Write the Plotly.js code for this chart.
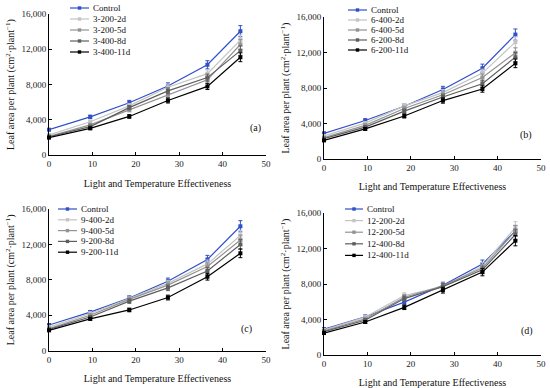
<!DOCTYPE html>
<html>
<head>
<meta charset="utf-8">
<script src="https://cdn.plot.ly/plotly-3.0.1.min.js"></script>
<style>html,body{margin:0;padding:0;background:#fff;}#chart{width:550px;height:388px;}</style>
</head>
<body>
<div id="chart"></div>
<script>
// ---- data ----
const lte = [0, 9.5, 18.5, 27.4, 36.5, 44.1];

const namesA = ['Control', '3-200-2d', '3-200-5d', '3-400-8d', '3-400-11d'];
const controlA = [2900, 4350, 5950, 7850, 10250, 14050];
const a2d = [2300, 3800, 5600, 7700, 9250, 13050];
const a5d = [2150, 3450, 5150, 6850, 8550, 12550];
const a8d = [2100, 3250, 5400, 7300, 8800, 11850];
const a11d = [2000, 3050, 4400, 6200, 7800, 11100];

const namesB = ['Control', '6-400-2d', '6-400-5d', '6-200-8d', '6-200-11d'];
const controlB = [2900, 4350, 5950, 7850, 10250, 14050];
const b2d = [2600, 4050, 6000, 7500, 9700, 13200];
const b5d = [2400, 3800, 5700, 7250, 9200, 12000];
const b8d = [2300, 3600, 5400, 7000, 8500, 11500];
const b11d = [2100, 3400, 4850, 6600, 7900, 10800];

const namesC = ['Control', '9-400-2d', '9-400-5d', '9-200-8d', '9-200-11d'];
const controlC = [2900, 4350, 5950, 7850, 10300, 14050];
const c2d = [2650, 4200, 5900, 7600, 9800, 13000];
const c5d = [2500, 4000, 5800, 7400, 9500, 12500];
const c8d = [2400, 3800, 5600, 7100, 9000, 12000];
const c11d = [2300, 3600, 4600, 6000, 8350, 11000];

const namesD = ['Control', '12-200-2d', '12-200-5d', '12-400-8d', '12-400-11d'];
const controlD = [2900, 4300, 5950, 7850, 10250, 14000];
const d2d = [2800, 4250, 6700, 7700, 10000, 14400];
const d5d = [2700, 4050, 6500, 7800, 9800, 14000];
const d8d = [2600, 3900, 6350, 7700, 9600, 13600];
const d11d = [2450, 3700, 5350, 7300, 9350, 12900];

const panelLabels = ['(a)', '(b)', '(c)', '(d)'];
const xTitle = 'Light and Temperature Effectiveness';
const yTitle = 'Leaf area per plant (cm<sup>2</sup>·plant<sup>−1</sup>)';

// ---- styling / layout ----
const W = 550, H = 388;
const fx = p => p / W, fy = p => 1 - p / H;
const colors = ['#2f50c8', '#c4c4c4', '#939393', '#5e5e5e', '#000000'];
const FONT = '"Times New Roman", "Liberation Serif", serif';

const panels = [
  {names: namesA, series: [controlA, a2d, a5d, a8d, a11d], xd: [49, 266], yd: [14, 155.3],
   lab: [255, 128], leg: {x0: 70, x1: 89, tx: 91, y0: 8, dy: 11}},
  {names: namesB, series: [controlB, b2d, b5d, b8d, b11d], xd: [324, 541], yd: [17.3, 159],
   lab: [526, 135], leg: {x0: 348, x1: 367, tx: 369, y0: 10, dy: 10}},
  {names: namesC, series: [controlC, c2d, c5d, c8d, c11d], xd: [49, 266], yd: [209, 350.7],
   lab: [246, 329], leg: {x0: 58, x1: 77, tx: 79, y0: 209, dy: 10.8}},
  {names: namesD, series: [controlD, d2d, d5d, d8d, d11d], xd: [324, 541], yd: [213.3, 354.7],
   lab: [527, 331], leg: {x0: 345, x1: 363, tx: 365, y0: 209, dy: 11.6}}
];

const traces = [];
const layout = {
  width: W, height: H,
  margin: {l: 0, r: 0, t: 0, b: 0},
  paper_bgcolor: '#fff', plot_bgcolor: '#fff',
  showlegend: false,
  font: {family: FONT, size: 9, color: '#111'},
  shapes: [], annotations: []
};

panels.forEach((p, i) => {
  const k = i === 0 ? '' : String(i + 1);
  p.series.forEach((ys, j) => {
    traces.push({
      type: 'scatter', mode: 'lines+markers', name: p.names[j],
      x: lte, y: ys, xaxis: 'x' + k, yaxis: 'y' + k,
      line: {color: colors[j], width: 1.2},
      marker: {color: colors[j], size: 4, symbol: 'square'},
      error_y: {type: 'percent', value: 4.5, color: colors[j], thickness: 1, width: 2},
      cliponaxis: false
    });
  });
  layout['xaxis' + k] = {
    domain: [fx(p.xd[0]), fx(p.xd[1])], anchor: 'y' + k,
    range: [0, 50], dtick: 10, tick0: 0,
    ticks: 'inside', ticklen: 3, tickcolor: '#000',
    showline: true, linecolor: '#000', linewidth: 1,
    showgrid: false, zeroline: false, fixedrange: true,
    tickfont: {family: FONT, size: 9, color: '#222'},
    title: {text: xTitle, font: {family: FONT, size: 10, color: '#111'}, standoff: 11}
  };
  layout['yaxis' + k] = {
    domain: [fy(p.yd[1]), fy(p.yd[0])], anchor: 'x' + k,
    range: [0, 16000], dtick: 4000, tick0: 0, tickformat: ',d',
    ticks: 'inside', ticklen: 3, tickcolor: '#000',
    showline: true, linecolor: '#000', linewidth: 1,
    showgrid: false, zeroline: false, fixedrange: true,
    tickfont: {family: FONT, size: 9, color: '#222'},
    title: {text: yTitle, font: {family: FONT, size: 10, color: '#111'}, standoff: 4}
  };
  layout.annotations.push({
    xref: 'paper', yref: 'paper', x: fx(p.lab[0]), y: fy(p.lab[1]),
    text: panelLabels[i], showarrow: false, xanchor: 'center', yanchor: 'middle',
    font: {family: FONT, size: 10, color: '#111'}
  });
  p.names.forEach((nm, j) => {
    const yy = p.leg.y0 + j * p.leg.dy;
    layout.shapes.push({
      type: 'line', xref: 'paper', yref: 'paper',
      x0: fx(p.leg.x0), x1: fx(p.leg.x1), y0: fy(yy), y1: fy(yy),
      line: {color: colors[j], width: 1.2}
    });
    const cx = (p.leg.x0 + p.leg.x1) / 2;
    layout.shapes.push({
      type: 'rect', xref: 'paper', yref: 'paper',
      x0: fx(cx - 1.7), x1: fx(cx + 1.7), y0: fy(yy - 1.7), y1: fy(yy + 1.7),
      fillcolor: colors[j], line: {width: 0}
    });
    layout.annotations.push({
      xref: 'paper', yref: 'paper', x: fx(p.leg.tx), y: fy(yy),
      text: nm, showarrow: false, xanchor: 'left', yanchor: 'middle',
      font: {family: FONT, size: 9, color: '#111'}
    });
  });
});

Plotly.newPlot('chart', traces, layout, {displayModeBar: false, staticPlot: true});
</script>
</body>
</html>
